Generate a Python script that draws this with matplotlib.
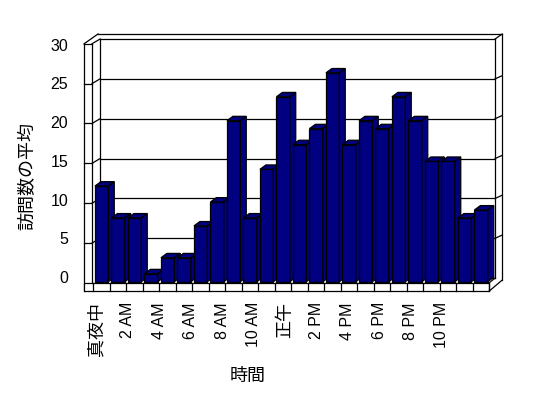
import numpy as np
import matplotlib
matplotlib.use('Agg')
import matplotlib.pyplot as plt
from matplotlib.patches import Polygon, Rectangle

# data
hours = list(range(24))
visits = [12, 8, 8, 1, 3, 3, 7, 10, 20.2, 8, 14.1, 23.2,
          17.2, 19.2, 26.2, 17.2, 20.2, 19.2, 23.2, 20.2, 15.1, 15.1, 8, 9]
hour_labels = ['真夜中', '2 AM', '4 AM', '6 AM', '8 AM', '10 AM',
               '正午', '2 PM', '4 PM', '6 PM', '8 PM', '10 PM']
label_slots = [0, 2, 4, 6, 8, 10, 12, 14, 16, 18, 20, 22]
y_ticks = [0, 5, 10, 15, 20, 25, 30]

BAR_COLOR = '#000080'
LW = 0.9
LATIN = ['Liberation Sans', 'Noto Sans CJK JP']
CJK = ['Noto Sans CJK JP', 'DejaVu Sans']

# fake 3d look (data units: 1 x = one hour slot, 1 y = one visit)
BW = 0.81            # bar front width
DX, DY = 0.36, 0.55  # bar depth
BACK = 0.45          # back wall sits a bit higher
XO, XI, XB = -0.56, -0.08, 0.41      # left wall outer / inner / back wall left
XBR, XOR = 24.35, 24.78              # back wall right / outer right
FLOOR_TOP, FLOOR_BOT = -0.125, -1.17
TOP_OUT = 31.08
YMAX = 30


def seg(x0, y0, x1, y1, z=1):
    ax.plot([x0, x1], [y0, y1], color='k', lw=LW, zorder=z,
            solid_capstyle='projecting')


fig = plt.figure(figsize=(5.48, 3.98), dpi=100)
ax = fig.add_axes([0, 0, 1, 1])
ax.set_xlim(-93.3 / 16.5, (548 - 93.3) / 16.5)
ax.set_ylim((281.7 - 398) / 7.97, 281.7 / 7.97)
ax.axis('off')

# walls --------------------------------------------------------------
left_top = YMAX - 0.15
seg(XO, left_top, XO, FLOOR_BOT)
seg(XI, left_top, XI, FLOOR_TOP)
seg(XB, YMAX + BACK, XB, BACK)
seg(XO, left_top, XI, left_top)
seg(XO, left_top, 0.285, TOP_OUT)
seg(XI, left_top, XB, YMAX + BACK)
seg(0.285, TOP_OUT, XOR, TOP_OUT)
seg(XB, YMAX + BACK, XBR, YMAX + BACK)
seg(XBR, YMAX + BACK, XOR, TOP_OUT)
seg(XBR, YMAX + BACK, XBR, BACK)
seg(XOR, TOP_OUT, XOR, 0.2)
seg(XB, BACK, XBR, BACK)

# gridlines on back wall + marks on the side walls
for v in y_ticks[1:-1]:
    seg(XB, v + BACK, XBR, v + BACK)
    seg(XO, v - 0.15, XI, v - 0.15)
    seg(XI, v - 0.15, XB, v + BACK)
    seg(XBR, v + BACK, XOR, v + BACK + 0.4)

# floor
ax.add_patch(Rectangle((XO, FLOOR_BOT), 24 - XO, FLOOR_TOP - FLOOR_BOT,
                       facecolor='white', edgecolor='k', lw=LW, zorder=2))
for k in range(25):
    seg(k, FLOOR_TOP, k, FLOOR_BOT, z=2)
seg(24, FLOOR_BOT, XOR, 0.2, z=2)
seg(24, FLOOR_TOP, XBR, BACK, z=2)

# bars ---------------------------------------------------------------
bars = ax.bar(np.array(hours) + 0.1, visits, width=BW, align='edge',
              color=BAR_COLOR, edgecolor='k', linewidth=LW)
for i, b in enumerate(bars):
    z = 3 + i
    b.set_zorder(z)
    x0 = b.get_x()
    x1 = x0 + b.get_width()
    h = b.get_height()
    top = [(x0, h), (x0 + DX, h + DY), (x1 + DX, h + DY), (x1, h)]
    side = [(x1, 0), (x1, h), (x1 + DX, h + DY), (x1 + DX, DY)]
    for pts in (top, side):
        ax.add_patch(Polygon(pts, closed=True, facecolor=BAR_COLOR,
                             edgecolor='k', lw=LW, zorder=z))

# labels -------------------------------------------------------------
for v in y_ticks:
    ax.text(-1.515, 0.40 + 0.972 * v, str(v), ha='right', va='center',
            fontsize=11.5, family=LATIN)

for s, lab in zip(label_slots, hour_labels):
    cjk = not lab.isascii()
    ax.text(0.2 + 0.951 * s, -2.55, lab, rotation=90, ha='center', va='top',
            fontsize=13 if cjk else 11.5, family=CJK if cjk else LATIN)

ax.text(-3.99, 13.2, '訪問数の平均', rotation=90, ha='center', va='center',
        fontsize=13, family=CJK)
ax.text(9.38, -11.83, '時間', ha='center', va='center', fontsize=13, family=CJK)

fig.savefig('out.png', dpi=100)
